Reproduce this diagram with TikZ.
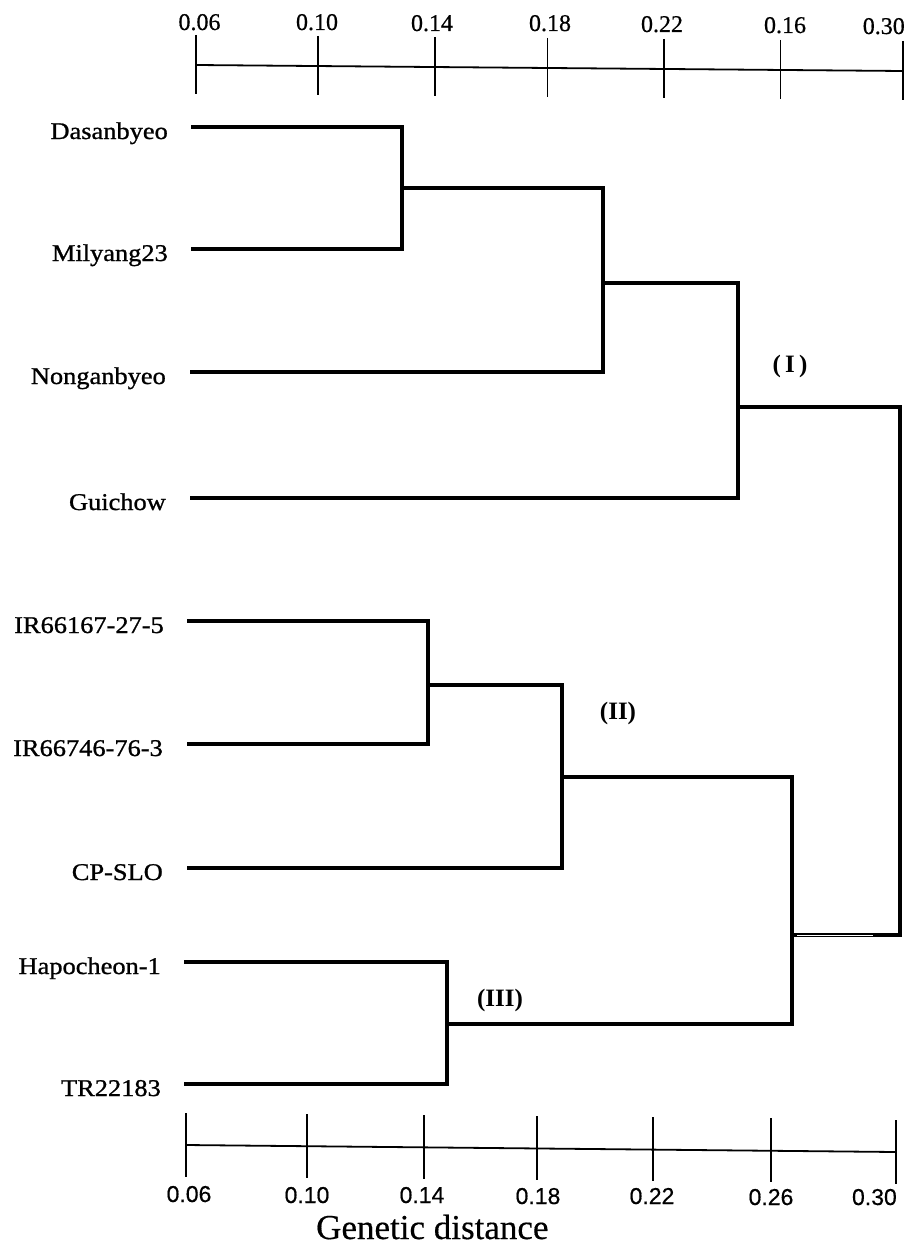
\documentclass[tikz,border=0pt]{standalone}
\usepackage{fontspec}
\usetikzlibrary{calc}
\setmainfont{Liberation Serif}
\newfontfamily\leaffont[FakeStretch=1.1,FakeBold=1.0]{Liberation Serif}
\newfontfamily\numfont[FakeStretch=1.0,FakeBold=0.6]{Liberation Serif}
\newfontfamily\bnumfont[FakeBold=0.5]{Liberation Sans}
\newfontfamily\gdfont[FakeBold=0.4]{Liberation Serif}
\begin{document}
\begin{tikzpicture}[x=1pt,y=-1pt,
  br/.style={line width=3.3pt, line join=miter, line cap=rect},
  axisline/.style={line width=1.8pt},
  leaf/.style={font=\leaffont\fontsize{24}{28}\selectfont, anchor=base east, inner sep=0pt},
  topnum/.style={font=\numfont\fontsize{24}{28}\selectfont, anchor=base, inner sep=0pt},
  botnum/.style={font=\bnumfont\fontsize{23}{27}\selectfont, anchor=base, inner sep=0pt},
  clab/.style={font=\bfseries\fontsize{25}{29}\selectfont, anchor=center, inner sep=0pt}]
\useasboundingbox[fill=white] (0,0) rectangle (916,1247);

% ---- leaf labels ----
\node[leaf] (lD) at (168,139) {Dasanbyeo};
\node[leaf] (lM) at (168,261) {Milyang23};
\node[leaf] (lN) at (166,384) {Nonganbyeo};
\node[leaf] (lG) at (166,510) {Guichow};
\node[leaf] (lI1) at (164,633) {IR66167-27-5};
\node[leaf] (lI2) at (163,756) {IR66746-76-3};
\node[leaf] (lC) at (163,880) {CP-SLO};
\node[leaf] (lH) at (161,974) {Hapocheon-1};
\node[leaf] (lT) at (161,1096) {TR22183};

% ---- leaf line starts ----
\coordinate (sD) at (193,127);
\coordinate (sM) at (193,249);
\coordinate (sN) at (192,372);
\coordinate (sG) at (192,498);
\coordinate (sI1) at (189,621);
\coordinate (sI2) at (189,744);
\coordinate (sC) at (189,868);
\coordinate (sH) at (186,962);
\coordinate (sT) at (186,1084);

% ---- junctions ----
\coordinate (j1) at (402,188);
\coordinate (j2) at (603,283);
\coordinate (j3) at (738,407);
\coordinate (j4) at (428,685);
\coordinate (j5) at (562,777);
\coordinate (j6) at (447,1024);
\coordinate (j7) at (792,935);
\coordinate (root) at (900,670);

% ---- dendrogram ----
\draw[br] (sD) -| (j1) |- (sM);
\draw[br] (j1) -| (j2) |- (sN);
\draw[br] (j2) -| (j3) |- (sG);
\draw[br] (sI1) -| (j4) |- (sI2);
\draw[br] (j4) -| (j5) |- (sC);
\draw[br] (sH) -| (j6) |- (sT);
\draw[br] (j5) -| (j7) |- (j6);
\draw[br] (j3) -| (root) |- (j7);
% double-line look of the scan
\coordinate (dblA) at (797,935);
\coordinate (dblB) at (873,935);
\draw[white, line width=0.9pt] (dblA) -- (dblB);

% ---- cluster labels ----
\node[clab] (cI) at (790,366) {(\,I\,)};
\node[clab] (cII) at (618,713) {(II)};
\node[clab] (cIII) at (500,1000) {(III)};

% ---- top axis ----
\coordinate (t0) at (196,65);
\coordinate (t1) at (317.6,66);
\coordinate (t2) at (434.7,67);
\coordinate (t3) at (547.5,68);
\coordinate (t4) at (663.7,69);
\coordinate (t5) at (780.4,70);
\coordinate (t6) at (903,71);
\draw[axisline] (t0) -- (t6);
\foreach \i in {0,...,6} {
  \draw[axisline] ($(t\i)+(0,-30)$) -- ($(t\i)+(0,29)$);
}
\node[topnum] (tn0) at (199.5,30) {0.06};
\node[topnum] (tn1) at (317,30) {0.10};
\node[topnum] (tn2) at (432,31) {0.14};
\node[topnum] (tn3) at (550,31) {0.18};
\node[topnum] (tn4) at (662,32) {0.22};
\node[topnum] (tn5) at (785,33) {0.16};
\node[topnum, anchor=base east] (tn6) at (905,34) {0.30};

% ---- bottom axis ----
\coordinate (b0) at (186,1145);
\coordinate (b1) at (307,1146);
\coordinate (b2) at (424,1147);
\coordinate (b3) at (537,1148);
\coordinate (b4) at (653,1149);
\coordinate (b5) at (771,1150);
\coordinate (b6) at (896,1152);
\draw[axisline] (b0) -- (b6);
\foreach \i in {0,...,6} {
  \draw[axisline] ($(b\i)+(0,-32)$) -- ($(b\i)+(0,32)$);
}
\node[botnum] (bn0) at (189,1202) {0.06};
\node[botnum] (bn1) at (307,1203) {0.10};
\node[botnum] (bn2) at (422,1203) {0.14};
\node[botnum] (bn3) at (538,1204) {0.18};
\node[botnum] (bn4) at (652,1204) {0.22};
\node[botnum] (bn5) at (771,1205) {0.26};
\node[botnum, anchor=base east] (bn6) at (897,1205) {0.30};
\node[font=\gdfont\fontsize{35}{40}\selectfont, anchor=base west, inner sep=0pt] (gd) at (316,1239) {Genetic distance};
\end{tikzpicture}
\end{document}
